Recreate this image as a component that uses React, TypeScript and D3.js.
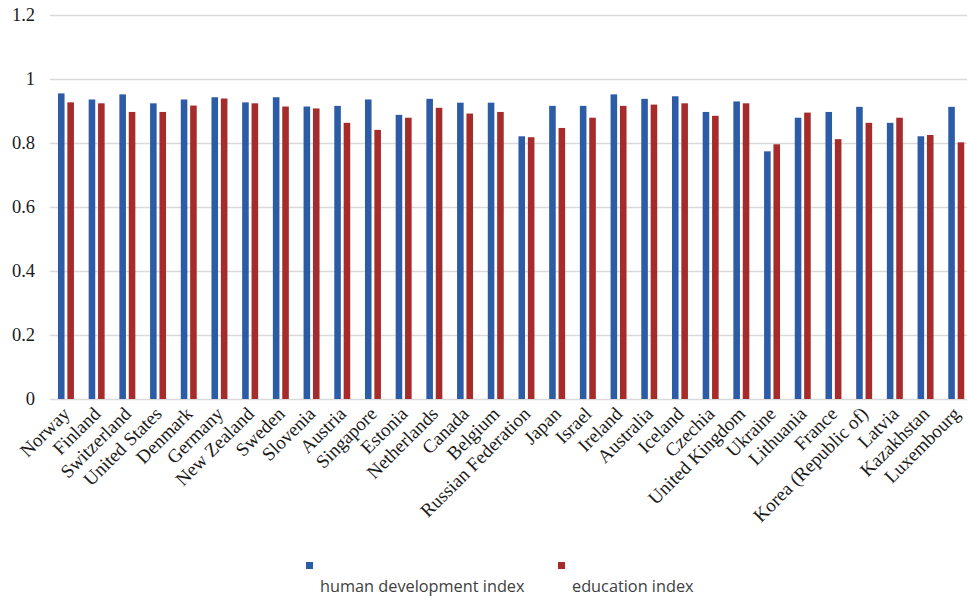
import React from "react";
import * as d3 from "d3";

// Countries in display order
const countries: string[] = [
  "Norway", "Finland", "Switzerland", "United States", "Denmark", "Germany",
  "New Zealand", "Sweden", "Slovenia", "Austria", "Singapore", "Estonia",
  "Netherlands", "Canada", "Belgium", "Russian Federation", "Japan", "Israel",
  "Ireland", "Australia", "Iceland", "Czechia", "United Kingdom", "Ukraine",
  "Lithuania", "France", "Korea (Republic of)", "Latvia", "Kazakhstan", "Luxembourg",
];

const hdiValues: number[] = [
  0.955, 0.936, 0.952, 0.924, 0.936, 0.943, 0.927, 0.943, 0.914, 0.916,
  0.936, 0.888, 0.938, 0.926, 0.926, 0.821, 0.916, 0.916, 0.952, 0.938,
  0.946, 0.897, 0.930, 0.774, 0.879, 0.897, 0.913, 0.863, 0.821, 0.913,
];

const educationValues: number[] = [
  0.927, 0.924, 0.897, 0.897, 0.917, 0.939, 0.924, 0.914, 0.908, 0.863,
  0.841, 0.879, 0.910, 0.892, 0.897, 0.818, 0.847, 0.879, 0.916, 0.920,
  0.924, 0.885, 0.924, 0.796, 0.895, 0.812, 0.863, 0.879, 0.825, 0.802,
];

const yTicks: number[] = [0, 0.2, 0.4, 0.6, 0.8, 1, 1.2];

const seriesNames: string[] = ["human development index", "education index"];
const seriesColors: string[] = ["#2D5CA6", "#A62B2B"];

const W = 967;
const H = 596;

export default function App() {
  const x0 = d3.scaleBand<string>().domain(countries).range([50.6, 971.6]).paddingInner(0.48).paddingOuter(0.24);
  const x1 = d3.scaleBand<number>().domain([0, 1]).range([0, x0.bandwidth()]).paddingInner(0.3);
  const y = d3.scaleLinear().domain([0, 1.2]).range([399, 15]);

  const series = [hdiValues, educationValues];
  const serif = "'Liberation Serif', 'Times New Roman', serif";

  return (
    <svg
      width={W}
      height={H}
      viewBox={`0 0 ${W} ${H}`}
      style={{ position: "absolute", left: 0, top: 0, background: "#fff" }}
    >
      {/* gridlines */}
      {yTicks.map((t) => (
        <line
          key={`g${t}`}
          x1={50}
          x2={971}
          y1={Math.round(y(t)) + 0.5}
          y2={Math.round(y(t)) + 0.5}
          stroke="#d9d9d9"
          strokeWidth={1.3}
        />
      ))}
      {/* y-axis labels */}
      {yTicks.map((t) => (
        <text
          key={`t${t}`}
          x={35}
          y={y(t) + 6}
          textAnchor="end"
          fontFamily={serif}
          fontSize={18.5}
          fill="#1a1a1a"
        >
          {d3.format("~g")(t)}
        </text>
      ))}
      {/* bars */}
      {countries.map((c, i) => (
        <g key={c} transform={`translate(${x0(c)},0)`}>
          {series.map((vals, s) => (
            <rect
              key={s}
              x={x1(s)}
              y={y(vals[i])}
              width={x1.bandwidth()}
              height={y(0) - y(vals[i])}
              fill={seriesColors[s]}
            />
          ))}
        </g>
      ))}
      {/* category labels */}
      {countries.map((c) => {
        const cx = (x0(c) as number) + x0.bandwidth() / 2 + 5;
        const cy = 415;
        return (
          <text
            key={`l${c}`}
            transform={`translate(${cx},${cy}) rotate(-45)`}
            textAnchor="end"
            fontFamily={serif}
            fontSize={19}
            fill="#1a1a1a"
          >
            {c}
          </text>
        );
      })}
      {/* legend */}
      {seriesNames.map((name, s) => {
        const lx = s === 0 ? 306 : 558;
        return (
          <g key={name}>
            <rect x={lx} y={562} width={7} height={7} fill={seriesColors[s]} />
            <text
              x={lx + 14}
              y={591.5}
              fontFamily="'Open Sans', sans-serif"
              fontSize={16.3}
              fill="#404040"
            >
              {name}
            </text>
          </g>
        );
      })}
    </svg>
  );
}
